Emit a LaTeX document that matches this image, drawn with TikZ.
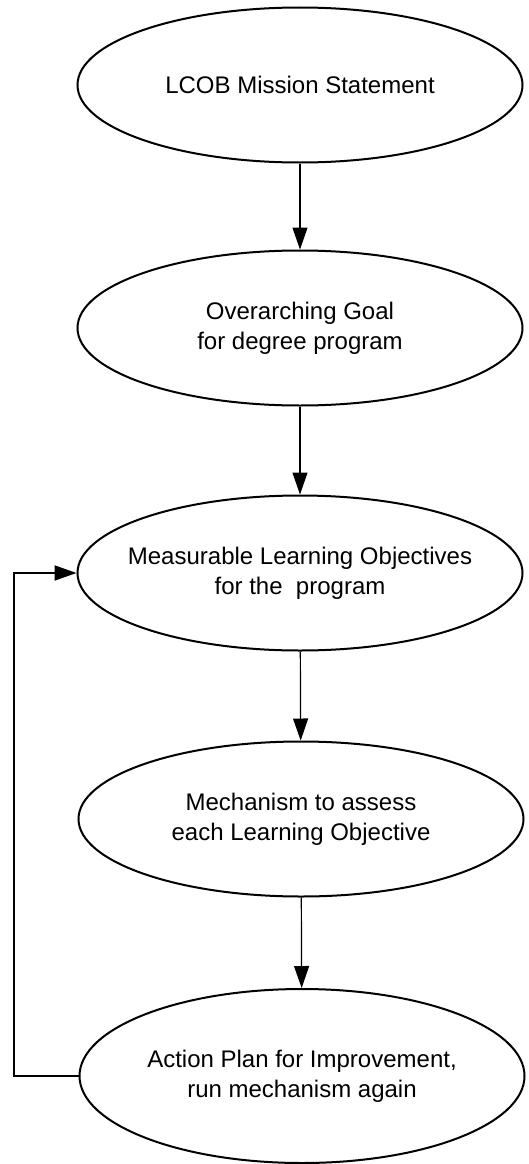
\documentclass[tikz,border=0pt]{standalone}
\usepackage{fontspec}
\setmainfont{Liberation Sans}
\usetikzlibrary{shapes.geometric,arrows.meta}
\tikzset{
    stage/.style = {
        ellipse,
        draw,
        line width = 2pt,
        inner xsep = -40pt,
        minimum width = 445pt,
        minimum height = 155pt,
        align = center,
        font = \fontsize{24}{30}\selectfont,
    }
}

\begin{document}
\begin{tikzpicture}[x=1pt,y=-1pt,>={Triangle[length=22pt,width=15pt]},line width=1.2pt]
    \useasboundingbox (0,0) rectangle (529,1164);

    \node[stage] (Mission) at (300,85) {LCOB Mission Statement};
    \node[stage] (Goal) at (300,328) {Overarching Goal\\for degree program};
    \node[stage] (Objectives) at (300,573) {Measurable Learning Objectives\\for the\ \ program};
    \node[stage] (Mechanism) at (301,819) {Mechanism to assess\\each Learning Objective};
    \node[stage,minimum height=174pt] (ActionPlan) at (302,1076) {Action Plan for Improvement,\\run mechanism again};

    \coordinate (LoopX) at (14,0);

    \draw[->,draw=black] (Mission) to (Goal);
    \draw[->,draw=black] (Goal) to (Objectives);
    \draw[->,draw=black] (Objectives) to (Mechanism);
    \draw[->,draw=black] (Mechanism) to (ActionPlan);

    \draw[->,draw=black,line width=2pt] (ActionPlan.west) -- (ActionPlan.west -| LoopX) |- (Objectives.west);

  \end{tikzpicture}
\end{document}
